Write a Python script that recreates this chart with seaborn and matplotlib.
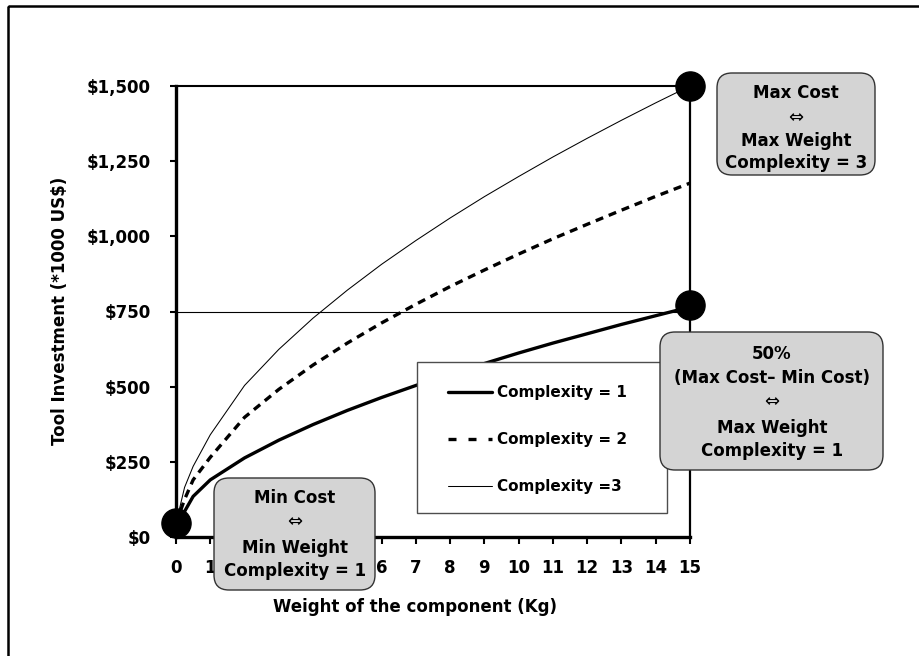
import matplotlib
matplotlib.use("Agg")
import matplotlib.pyplot as plt
import seaborn as sns
import pandas as pd
from matplotlib.patches import FancyBboxPatch, Rectangle
from matplotlib.lines import Line2D
from matplotlib.transforms import Affine2D
from matplotlib.ticker import FuncFormatter

# data
weight = [0, 0.25, 0.5, 1, 2, 3, 4, 5, 6, 7, 8, 9, 10, 11, 12, 13, 14, 15]
complexity_1 = [45, 85, 135, 190, 263, 322, 374, 421, 464, 504, 542, 577, 612, 645, 676, 707, 736, 765]
complexity_2 = [45, 125, 190, 265, 398, 491, 572, 645, 712, 774, 833, 888, 941, 992, 1040, 1087, 1133, 1177]
complexity_3 = [45, 165, 235, 340, 504, 624, 728, 821, 907, 986, 1061, 1132, 1199, 1264, 1326, 1386, 1444, 1500]
series_names = ["Complexity = 1", "Complexity = 2", "Complexity =3"]

marker_x = [0, 15, 15]
marker_y = [45, 1500, 770]
ref_level = 750

x_ticks = list(range(16))
# labels 2-5 sit under the "Min Cost" box in the reference
x_tick_labels = ["0", "1", "", "", "", ""] + [str(i) for i in range(6, 16)]
y_ticks = [0, 250, 500, 750, 1000, 1250, 1500]

df = pd.concat([
    pd.DataFrame({"weight": weight, "cost": vals, "series": name})
    for name, vals in zip(series_names, [complexity_1, complexity_2, complexity_3])
])

sns.set_theme(style="white")
plt.rcParams["font.family"] = ["DejaVu Sans"]
plt.rcParams["font.weight"] = "bold"
plt.rcParams["text.color"] = "black"
plt.rcParams["axes.labelcolor"] = "black"

W, H = 920, 656
fig = plt.figure(figsize=(W / 100, H / 100), dpi=100)
ax = fig.add_axes([176 / W, 1 - 537 / H, (690 - 176) / W, (537 - 86) / H])
# pixel transform in image coordinates (y down)
px = Affine2D().scale(1 / W, -1 / H).translate(0, 1) + fig.transFigure

line_styles = {
    "Complexity = 1": dict(lw=2.4, ls="-"),
    "Complexity = 2": dict(lw=2.4, ls=(0, (2.4, 1.8))),
    "Complexity =3": dict(lw=0.75, ls="-"),
}
for name, st in line_styles.items():
    sns.lineplot(data=df[df["series"] == name], x="weight", y="cost", ax=ax,
                 color="black", linewidth=st["lw"], linestyle=st["ls"],
                 legend=False, zorder=2)

ax.axhline(ref_level, color="black", lw=0.8, zorder=1)
ax.scatter(marker_x, marker_y, s=440, color="black", edgecolor="black",
           clip_on=False, zorder=6)

ax.set_xlim(0, 15)
ax.set_ylim(0, 1500)
ax.set_xticks(x_ticks)
ax.set_xticklabels(x_tick_labels)
ax.set_yticks(y_ticks)
ax.yaxis.set_major_formatter(FuncFormatter(lambda v, p: f"${v:,.0f}"))
ax.set(xlabel="", ylabel="")
ax.tick_params(axis="y", left=True, direction="out", length=4.3, width=1.5,
               pad=14, labelsize=12, colors="black")
ax.tick_params(axis="x", bottom=True, direction="out", length=5, width=1.5,
               pad=11, labelsize=12, colors="black")
for side, lw in [("left", 2.4), ("bottom", 2.4), ("top", 1.5), ("right", 1.6)]:
    ax.spines[side].set_visible(True)
    ax.spines[side].set_linewidth(lw)
    ax.spines[side].set_color("black")

fig.text(60, 311, "Tool Investment (*1000 US$)", transform=px, rotation=90,
         ha="center", va="center", fontsize=12, fontweight="bold", color="black")
fig.text(415, 607, "Weight of the component (Kg)", transform=px,
         ha="center", va="center", fontsize=12, fontweight="bold", color="black")

# legend
ax.add_artist(Rectangle((417, 362), 250, 151, transform=px, facecolor="white",
                        edgecolor="#4d4d4d", lw=1, zorder=4))
handles = [
    Line2D([], [], color="black", lw=2.4, ls="-"),
    Line2D([], [], color="black", lw=2.4, ls=(0, (2.4, 3.6))),
    Line2D([], [], color="black", lw=0.75, ls="-"),
]
leg = ax.legend(handles, series_names, loc="center left", bbox_to_anchor=(448, 439.5),
                bbox_transform=px, frameon=False, borderpad=0, borderaxespad=0,
                handlelength=2.9, handletextpad=0.3, labelspacing=2.1,
                prop=dict(weight="bold", size=11), labelcolor="black")
leg.set_zorder(5)


def note_box(x0, y0, x1, y1, cx, lines):
    fig.add_artist(FancyBboxPatch((x0, y0), x1 - x0, y1 - y0,
                                  boxstyle="round,pad=0,rounding_size=15",
                                  transform=px, facecolor="#d4d4d4",
                                  edgecolor="#333333", lw=1, zorder=3))
    for y, txt in lines:
        if txt == "⇔":
            fig.text(cx, y + 5, txt, transform=px, ha="center", va="baseline",
                     fontsize=13, fontweight="normal", color="black", zorder=4)
        else:
            fig.text(cx, y + 6, txt, transform=px, ha="center", va="baseline",
                     fontsize=12, fontweight="bold", color="black", zorder=4)


note_box(717, 73, 875, 175, 796,
         [(92, "Max Cost"), (118, "⇔"), (140, "Max Weight"), (162, "Complexity = 3")])
note_box(660, 332, 883, 470, 772,
         [(353, "50%"), (377, "(Max Cost– Min Cost)"), (402, "⇔"),
          (427, "Max Weight"), (450, "Complexity = 1")])
note_box(214, 478, 375, 590, 295,
         [(497, "Min Cost"), (522, "⇔"), (547, "Min Weight"), (570, "Complexity = 1")])

# outer frame
fig.add_artist(Rectangle((8, 6), 2000, 2000, transform=px, fill=False,
                         edgecolor="black", lw=1.8, zorder=0))

fig.savefig("out.png", dpi=100)
